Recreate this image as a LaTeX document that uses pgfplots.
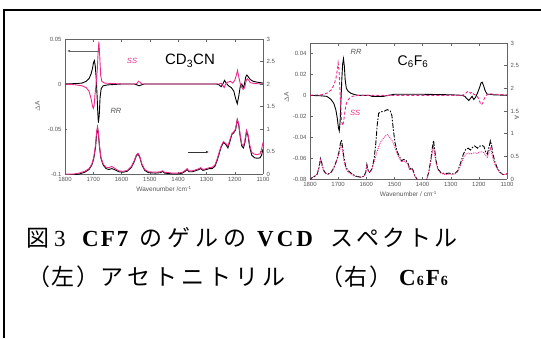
\documentclass[border=0pt]{standalone}
\usepackage{pgfplots}
\pgfplotsset{compat=1.18}
\usetikzlibrary{arrows.meta}
\usepackage{fontspec}
\setmainfont{Liberation Sans}
\newfontfamily\jp{Noto Sans CJK JP}
\newfontfamily\lser{Liberation Serif}
\definecolor{pk}{RGB}{236,40,140}
\definecolor{ax}{RGB}{100,100,100}
\definecolor{tl}{RGB}{85,85,85}
\newcommand{\jpt}{\jp\fontsize{23}{23}\selectfont}
\newcommand{\lat}{\lser\fontsize{23}{23}\selectfont}
\pgfplotsset{
  base/.style={scale only axis, x dir=reverse, xmin=1100, xmax=1800,
    xtick={1100,1200,...,1800},
    scaled y ticks=false, scaled x ticks=false,
    tick label style={font=\fontsize{6}{6}\selectfont, text=tl},
    label style={font=\fontsize{6.5}{7}\selectfont, text=tl},
    axis line style={ax, line width=0.7pt},
    tick style={ax, line width=0.4pt}, major tick length=2.5pt, tick align=inside,
    /pgf/number format/assume math mode=true,
    /pgf/number format/1000 sep={},
    /pgf/number format/fixed,
    /pgf/number format/precision=2,
    anchor=south west},
  vcd/.style={line width=0.9pt},
}
\begin{document}
\begin{tikzpicture}
\useasboundingbox (0pt,0pt) rectangle (541pt,338pt);
\draw[line width=1.1pt] (4pt,0pt) -- (4pt,328pt) -- (541pt,328pt);
% ---------------- left plot ----------------
\begin{axis}[base, at={(65pt,164pt)}, width=198pt, height=135pt,
  ymin=-0.1, ymax=0.05, ytick={-0.1,-0.05,0,0.05}, axis y line*=left,
  xlabel={Wavenumber /cm\textsuperscript{-1}},
  xlabel style={at={(axis description cs:0.5,-0.11)}, anchor=center},
  ylabel={$\Delta$A}, ylabel style={at={(axis description cs:-0.14,0.5)}, anchor=center}]
\addplot[vcd, black] coordinates {(1800,0)(1760,0.0005)(1740,0.001)(1725,0.003)(1715,0.006)(1708,0.011)(1703,0.017)(1699,0.024)(1696,0.026)(1693,0.02)(1690,0.008)(1687,-0.01)(1684,-0.032)(1682,-0.043)(1679,-0.035)(1676,-0.015)(1672,-0.005)(1665,-0.002)(1650,-0.001)(1600,0)(1555,0)(1545,-0.001)(1538,-0.002)(1530,-0.001)(1520,0)(1450,0)(1400,0)(1300,0)(1265,0)(1255,-0.001)(1248,-0.003)(1242,0)(1236,0.004)(1230,0.001)(1222,-0.002)(1212,-0.004)(1203,-0.008)(1197,-0.016)(1191,-0.022)(1186,-0.014)(1180,-0.002)(1175,0)(1170,-0.004)(1166,-0.001)(1161,0.008)(1157,0.010)(1152,0.008)(1145,0.005)(1135,0.003)(1120,0.002)(1100,0.001)};
\addplot[vcd, pk] coordinates {(1800,0)(1760,-0.001)(1740,-0.002)(1725,-0.004)(1715,-0.008)(1708,-0.016)(1703,-0.024)(1700,-0.027)(1697,-0.024)(1694,-0.012)(1690,0)(1686,0.015)(1683,0.035)(1680,0.047)(1677,0.03)(1674,0.01)(1670,0.003)(1660,0.001)(1600,0)(1550,0)(1545,0.001)(1540,0.003)(1535,0.002)(1528,0)(1400,0)(1300,0)(1255,0)(1248,0.001)(1242,-0.002)(1237,-0.004)(1232,0)(1225,0.002)(1215,0.003)(1207,0.001)(1200,0.004)(1195,0.009)(1190,0.015)(1185,0.007)(1180,0)(1175,-0.004)(1170,-0.006)(1165,-0.004)(1160,0.003)(1156,0.006)(1150,0.004)(1145,0.0015)(1130,0.0005)(1100,0)};
\end{axis}
\begin{axis}[base, at={(65pt,164pt)}, width=198pt, height=135pt,
  ymin=0, ymax=3, ytick={0,0.5,...,3}, axis y line*=right, axis x line=none]
\addplot[vcd, black] coordinates {(1800,-0.04)(1770,-0.02)(1750,0.0)(1730,0.04)(1715,0.1)(1705,0.2)(1698,0.35)(1692,0.6)(1688,0.9)(1685,1.02)(1682,0.9)(1678,0.6)(1673,0.35)(1665,0.2)(1655,0.12)(1645,0.1)(1635,0.12)(1625,0.1)(1610,0.05)(1595,0.04)(1580,0.06)(1565,0.15)(1555,0.28)(1548,0.4)(1542,0.44)(1536,0.38)(1528,0.2)(1518,0.08)(1505,0.03)(1480,0.02)(1462,0.03)(1455,0.06)(1448,0.02)(1420,0.0)(1400,0.0)(1385,0.02)(1375,0.06)(1368,0.1)(1362,0.05)(1350,0.05)(1340,0.07)(1330,0.09)(1320,0.12)(1312,0.08)(1300,0.1)(1290,0.12)(1280,0.12)(1270,0.17)(1262,0.3)(1255,0.45)(1248,0.6)(1240,0.7)(1232,0.66)(1224,0.58)(1218,0.7)(1210,0.88)(1203,0.92)(1197,0.98)(1191,1.2)(1186,1.1)(1181,0.85)(1175,0.62)(1169,0.58)(1164,0.7)(1158,0.95)(1153,0.85)(1147,0.6)(1140,0.42)(1130,0.36)(1120,0.35)(1110,0.36)(1105,0.42)(1100,0.55)};
\addplot[vcd, pk] coordinates {(1800,0.0)(1770,0.0)(1750,0.02)(1730,0.06)(1715,0.12)(1705,0.22)(1698,0.38)(1692,0.65)(1688,0.95)(1685,1.05)(1682,0.92)(1678,0.62)(1673,0.37)(1665,0.22)(1655,0.15)(1645,0.14)(1635,0.17)(1625,0.13)(1610,0.07)(1595,0.06)(1580,0.08)(1565,0.17)(1555,0.3)(1548,0.42)(1542,0.46)(1536,0.4)(1528,0.22)(1518,0.1)(1505,0.05)(1480,0.04)(1462,0.05)(1455,0.07)(1448,0.04)(1420,0.02)(1400,0.02)(1385,0.04)(1375,0.08)(1368,0.12)(1362,0.07)(1350,0.07)(1340,0.09)(1330,0.11)(1320,0.14)(1312,0.1)(1300,0.12)(1290,0.14)(1280,0.15)(1270,0.2)(1262,0.33)(1255,0.48)(1248,0.62)(1240,0.72)(1232,0.68)(1224,0.62)(1218,0.74)(1210,0.9)(1203,0.94)(1197,1.0)(1191,1.22)(1186,1.12)(1181,0.88)(1175,0.66)(1169,0.62)(1164,0.75)(1158,0.97)(1153,0.88)(1147,0.65)(1140,0.48)(1130,0.44)(1120,0.43)(1110,0.45)(1105,0.55)(1100,0.7)};
\end{axis}
% ---------------- right plot ----------------
\begin{axis}[base, at={(310pt,159pt)}, width=197pt, height=136pt,
  ymin=-0.08, ymax=0.05, ytick={-0.08,-0.06,...,0.04}, axis y line*=left,
  xlabel={Wavenumber / cm\textsuperscript{-1}},
  xlabel style={at={(axis description cs:0.5,-0.11)}, anchor=center},
  ylabel={$\Delta$A}, ylabel style={at={(axis description cs:-0.12,0.6)}, anchor=center}]
\addplot[vcd, black] coordinates {(1800,0)(1760,-0.0005)(1740,-0.001)(1725,-0.004)(1715,-0.008)(1708,-0.014)(1703,-0.022)(1699,-0.031)(1696,-0.034)(1693,-0.025)(1690,-0.005)(1687,0.015)(1684,0.03)(1681,0.035)(1678,0.028)(1675,0.015)(1671,0.007)(1665,0.004)(1655,0.002)(1645,0.001)(1630,0)(1590,0)(1580,-0.001)(1560,-0.001)(1540,-0.001)(1520,0)(1500,0.001)(1400,0.001)(1300,0.0005)(1260,0.0)(1250,-0.001)(1243,-0.003)(1236,-0.005)(1230,-0.003)(1224,-0.001)(1218,-0.004)(1212,-0.002)(1205,0.002)(1198,0.007)(1192,0.012)(1188,0.0125)(1183,0.009)(1177,0.004)(1170,0.001)(1160,0.001)(1150,0.0005)(1100,0.0)};
\addplot[vcd, pk, densely dashed] coordinates {(1800,0)(1760,0.0005)(1740,0.002)(1725,0.005)(1715,0.01)(1708,0.016)(1703,0.024)(1700,0.031)(1697,0.025)(1694,0.008)(1691,-0.01)(1688,-0.024)(1685,-0.029)(1681,-0.026)(1677,-0.018)(1673,-0.01)(1667,-0.005)(1660,-0.003)(1650,-0.001)(1630,0)(1400,0)(1300,0)(1260,0.0)(1250,0.001)(1243,0.003)(1236,0.004)(1230,0.002)(1224,0.003)(1218,0.001)(1210,0.0)(1203,-0.002)(1197,-0.006)(1192,-0.009)(1187,-0.008)(1182,-0.004)(1176,-0.001)(1170,0.001)(1160,0.0015)(1150,0.001)(1100,0.0005)};
\end{axis}
\begin{axis}[base, at={(310pt,159pt)}, width=197pt, height=136pt,
  ymin=0, ymax=3, ytick={0,0.5,...,3}, axis y line*=right, axis x line=none,
  ylabel={A}, ylabel style={at={(axis description cs:1.05,0.45)}, anchor=center, rotate=180}]
\addplot[vcd, black, dash pattern=on 5pt off 1.5pt on 1.5pt off 1.5pt] coordinates {(1800,-0.05)(1795,0.02)(1785,0.05)(1775,0.1)(1768,0.25)(1763,0.45)(1758,0.35)(1752,0.2)(1745,0.13)(1735,0.11)(1725,0.15)(1715,0.25)(1705,0.42)(1697,0.6)(1692,0.78)(1688,0.86)(1684,0.7)(1680,0.5)(1674,0.3)(1667,0.2)(1658,0.15)(1648,0.1)(1635,0.06)(1620,0.04)(1608,0.06)(1602,0.15)(1598,0.32)(1594,0.2)(1588,0.15)(1580,0.22)(1572,0.45)(1566,0.8)(1561,1.2)(1556,1.45)(1548,1.48)(1535,1.5)(1525,1.53)(1515,1.5)(1509,1.4)(1504,1.1)(1498,0.8)(1490,0.6)(1482,0.5)(1475,0.4)(1468,0.43)(1460,0.42)(1452,0.35)(1446,0.22)(1440,0.25)(1434,0.2)(1428,0.08)(1420,0.0)(1410,-0.1)(1395,-0.1)(1385,0.0)(1378,0.15)(1370,0.45)(1365,0.7)(1361,0.85)(1357,0.65)(1352,0.4)(1345,0.22)(1335,0.14)(1320,0.12)(1305,0.13)(1295,0.11)(1285,0.12)(1275,0.18)(1265,0.35)(1255,0.55)(1247,0.65)(1238,0.68)(1230,0.64)(1222,0.7)(1215,0.73)(1205,0.68)(1198,0.72)(1190,0.74)(1182,0.72)(1176,0.6)(1170,0.55)(1164,0.7)(1159,0.84)(1155,0.75)(1150,0.55)(1143,0.38)(1135,0.25)(1125,0.15)(1115,0.1)(1105,0.1)(1100,0.12)};
\addplot[vcd, pk, densely dotted] coordinates {(1800,-0.05)(1795,0.02)(1785,0.06)(1775,0.1)(1768,0.25)(1763,0.42)(1758,0.3)(1752,0.18)(1745,0.12)(1735,0.1)(1725,0.14)(1715,0.24)(1705,0.4)(1697,0.55)(1692,0.7)(1688,0.75)(1684,0.6)(1680,0.42)(1674,0.26)(1667,0.17)(1658,0.12)(1648,0.08)(1635,0.05)(1620,0.04)(1608,0.06)(1602,0.14)(1598,0.28)(1594,0.18)(1588,0.15)(1580,0.22)(1572,0.38)(1562,0.6)(1552,0.78)(1542,0.88)(1532,0.95)(1525,0.98)(1518,0.93)(1508,0.85)(1500,0.72)(1490,0.55)(1482,0.45)(1475,0.38)(1468,0.4)(1460,0.38)(1452,0.32)(1446,0.2)(1440,0.22)(1434,0.18)(1428,0.07)(1420,0.0)(1410,-0.1)(1395,-0.1)(1385,0.0)(1378,0.15)(1370,0.4)(1365,0.6)(1361,0.72)(1357,0.55)(1352,0.35)(1345,0.2)(1335,0.13)(1320,0.1)(1305,0.11)(1295,0.1)(1285,0.11)(1275,0.16)(1265,0.3)(1255,0.46)(1247,0.55)(1238,0.57)(1230,0.55)(1222,0.57)(1215,0.58)(1205,0.56)(1198,0.6)(1190,0.6)(1182,0.58)(1176,0.52)(1170,0.48)(1164,0.58)(1159,0.68)(1155,0.6)(1150,0.45)(1143,0.32)(1135,0.22)(1125,0.14)(1115,0.1)(1105,0.1)(1100,0.12)};
\end{axis}
% ---------------- annotations ----------------
\draw[ax, line width=0.5pt, -{Latex[length=3pt,width=2.5pt]}] (100pt,287pt) -- (67pt,287pt);
\draw[black!80, line width=0.5pt, -{Latex[length=3pt,width=2.5pt]}] (188pt,186pt) -- (209pt,186pt);
\node[text=pk, font=\fontsize{7.5}{8}\selectfont\itshape] at (132pt,277pt) {SS};
\node[text=tl, font=\fontsize{7.5}{8}\selectfont\itshape] at (116pt,227pt) {RR};
\node[font=\fontsize{15}{16}\selectfont] at (190pt,277pt) {CD\textsubscript{3}CN};
\node[text=tl, font=\fontsize{7.5}{8}\selectfont\itshape] at (356pt,286pt) {RR};
\node[text=pk, font=\fontsize{7.5}{8}\selectfont\itshape] at (355pt,225pt) {SS};
\node[font=\fontsize{14}{15}\selectfont] at (413pt,276pt) {C\textsubscript{6}F\textsubscript{6}};
% ---------------- caption ----------------
\begin{scope}[every node/.style={anchor=base west, inner sep=0pt}]
\node at (26pt,92pt) {\jpt 図};
\node at (54pt,92pt) {\lat 3};
\node at (82pt,92pt) {\lat\bfseries C\hspace{2pt}F\hspace{2pt}7};
\node at (139pt,92pt) {\jpt の\hspace{5pt}ゲ\hspace{5pt}ル\hspace{5pt}の};
\node at (257pt,92pt) {\lat\bfseries V\hspace{3pt}C\hspace{3pt}D};
\node at (330pt,92pt) {\jpt ス\hspace{3pt}ペ\hspace{3pt}ク\hspace{3pt}ト\hspace{3pt}ル};
\node at (27pt,53pt) {\jpt （\hspace{1.5pt}左\hspace{1.5pt}）};
\node at (100pt,53pt) {\jpt ア\hspace{4pt}セ\hspace{4pt}ト\hspace{4pt}ニ\hspace{4pt}ト\hspace{4pt}リ\hspace{4pt}ル};
\node at (320pt,53pt) {\jpt （\hspace{1.5pt}右\hspace{1.5pt}）};
\node at (399pt,53pt) {\lat\bfseries C\hspace{1pt}{\fontsize{14}{14}\selectfont 6}\hspace{2pt}F\hspace{1pt}{\fontsize{14}{14}\selectfont 6}};
\end{scope}
\end{tikzpicture}
\end{document}
